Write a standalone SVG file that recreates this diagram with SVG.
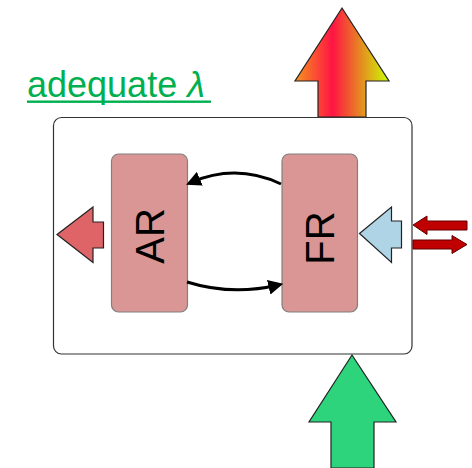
<svg xmlns="http://www.w3.org/2000/svg" width="472" height="468" viewBox="0 0 472 468">
  <style>
    .frame { fill: #ffffff; stroke: #333333; stroke-width: 1.2; }
    .block { fill: #d99694; stroke: #808080; stroke-width: 1.2; }
    .label { font-family: "Liberation Sans", Arial, sans-serif; font-size: 40px; fill: #000000; text-anchor: middle; }
    .title { font-family: "Liberation Sans", Arial, sans-serif; font-size: 36px; fill: #00b050; }
    .arrow { stroke: #222222; stroke-width: 1.2; stroke-linejoin: miter; }
    .flow { fill: none; stroke: #000000; stroke-width: 3; marker-end: url(#head); }
  </style>
  <defs>
    <linearGradient id="heat" x1="295" y1="0" x2="389" y2="0" gradientUnits="userSpaceOnUse">
      <stop offset="0" stop-color="#f5941e"/>
      <stop offset="0.4" stop-color="#ff1444"/>
      <stop offset="1" stop-color="#ccff00"/>
    </linearGradient>
    <marker id="head" markerWidth="5" markerHeight="5" refX="3.2" refY="2.5" orient="auto" markerUnits="strokeWidth">
      <path d="M0,0 L5,2.5 L0,5 Z" fill="#000000"/>
    </marker>
  </defs>

  <!-- title -->
  <g id="title">
    <text class="title" x="27" y="97">adequate <tspan font-style="italic">λ</tspan></text>
    <rect x="27" y="100.5" width="184" height="2.4" fill="#00b050"/>
  </g>

  <!-- output arrow on top of the frame -->
  <g id="heat-out">
    <path class="arrow" fill="url(#heat)" d="M342,8 L389,81 L366,81 L366,117 L318,117 L318,81 L295,81 Z"/>
  </g>

  <!-- enclosing frame -->
  <g id="frame">
    <rect class="frame" x="53.5" y="117.5" width="358.5" height="236.5" rx="8" ry="8"/>
  </g>

  <!-- input arrow below the frame -->
  <g id="green-in">
    <path class="arrow" fill="#2dd47b" d="M352,355 L396,422 L374,422 L374,468 L331,468 L331,422 L309,422 Z"/>
  </g>

  <!-- outgoing arrow on the left -->
  <g id="red-out">
    <path class="arrow" fill="#de6468" d="M57,234.5 L93,207 L93,222 L103.5,222 L103.5,248 L93,248 L93,262.5 Z"/>
  </g>

  <!-- incoming arrow on the right -->
  <g id="blue-in">
    <path class="arrow" fill="#aed4e6" d="M359.5,233.5 L391.5,207 L391.5,221 L401.5,221 L401.5,248 L391.5,248 L391.5,262.5 Z"/>
  </g>

  <!-- exchange arrows at the right edge -->
  <g id="exchange">
    <path fill="#c00000" stroke="#600000" stroke-width="1" d="M413,225 L427,216 L427,221 L467,221 L467,230 L427,230 L427,234.5 Z"/>
    <path fill="#c00000" stroke="#600000" stroke-width="1" d="M467,244.5 L452,235.5 L452,240 L413,240 L413,249 L452,249 L452,253.5 Z"/>
  </g>

  <!-- AR block -->
  <g id="AR">
    <rect class="block" x="111.5" y="154" width="76" height="158" rx="7" ry="7"/>
    <text class="label" transform="translate(164,236) rotate(-90)">AR</text>
  </g>

  <!-- FR block -->
  <g id="FR">
    <rect class="block" x="282" y="154" width="75.5" height="158" rx="7" ry="7"/>
    <text class="label" transform="translate(334,238) rotate(-90)">FR</text>
  </g>

  <!-- circulation between the two blocks -->
  <g id="connectors">
    <path class="flow" d="M281,184 Q236,163 191,182.5"/>
    <path class="flow" d="M187,282 Q232,296 278,285"/>
  </g>
</svg>
